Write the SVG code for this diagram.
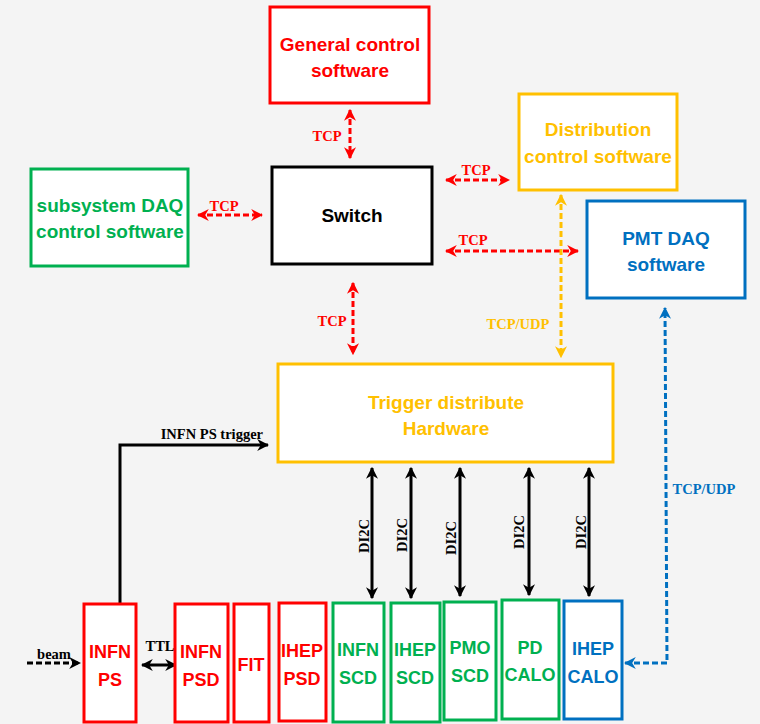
<svg xmlns="http://www.w3.org/2000/svg" width="760" height="724" viewBox="0 0 760 724">
<defs>
<marker id="ar" viewBox="0 0 10 10" refX="9" refY="5" markerWidth="4" markerHeight="4" orient="auto-start-reverse" markerUnits="strokeWidth"><path d="M0,0 L10,5 L0,10 L3,5 z" fill="#ff0000"/></marker>
<marker id="ao" viewBox="0 0 10 10" refX="9" refY="5" markerWidth="4" markerHeight="4" orient="auto-start-reverse" markerUnits="strokeWidth"><path d="M0,0 L10,5 L0,10 L3,5 z" fill="#ffc000"/></marker>
<marker id="ab" viewBox="0 0 10 10" refX="9" refY="5" markerWidth="4" markerHeight="4" orient="auto-start-reverse" markerUnits="strokeWidth"><path d="M0,0 L10,5 L0,10 L3,5 z" fill="#0070c0"/></marker>
<marker id="ak" viewBox="0 0 10 10" refX="9" refY="5" markerWidth="4" markerHeight="4" orient="auto-start-reverse" markerUnits="strokeWidth"><path d="M0,0 L10,5 L0,10 L3,5 z" fill="#000"/></marker>
</defs>
<style>
.box{fill:#fff;stroke-width:3}
.r{stroke:#ff0000}.o{stroke:#ffc000}.g{stroke:#00b050}.b{stroke:#0070c0}.k{stroke:#000}
.t{font-family:"Liberation Sans",Arial,sans-serif;font-weight:bold;font-size:19px;text-anchor:middle}
.sm{font-size:18px}
.tr{fill:#ff0000}.to{fill:#ffc000}.tg{fill:#00b050}.tb{fill:#0070c0}.tk{fill:#000}
.l{font-family:"Liberation Serif","Times New Roman",serif;font-weight:bold;font-size:14.5px;text-anchor:middle}
.d{fill:none;stroke-width:3;stroke-dasharray:6 3}
.s{fill:none;stroke-width:3}
</style>
<rect width="760" height="724" fill="#f4f4f4"/>
<g id="connectors">
<line class="d r" x1="350" y1="110" x2="350" y2="158" marker-start="url(#ar)" marker-end="url(#ar)"/>
<text class="l tr" x="327" y="141">TCP</text>
<line class="d r" x1="446" y1="180" x2="509" y2="180" marker-start="url(#ar)" marker-end="url(#ar)"/>
<text class="l tr" x="476" y="175">TCP</text>
<line class="d r" x1="198" y1="215" x2="262" y2="215" marker-start="url(#ar)" marker-end="url(#ar)"/>
<text class="l tr" x="224" y="211">TCP</text>
<line class="d r" x1="446" y1="251" x2="578" y2="251" marker-start="url(#ar)" marker-end="url(#ar)"/>
<text class="l tr" x="473" y="245">TCP</text>
<line class="d o" x1="561" y1="195" x2="561" y2="357" marker-start="url(#ao)" marker-end="url(#ao)"/>
<text class="l to" x="518" y="329">TCP/UDP</text>
<line class="d r" x1="353" y1="283" x2="353" y2="354" marker-start="url(#ar)" marker-end="url(#ar)"/>
<text class="l tr" x="332" y="326">TCP</text>
<polyline class="d b" points="625,663 667,663 665,308" marker-start="url(#ab)" marker-end="url(#ab)"/>
<text class="l tb" x="704" y="494">TCP/UDP</text>
<polyline class="s k" points="120,604 120,445 268,445" marker-end="url(#ak)"/>
<text class="l tk" x="263" y="439" style="text-anchor:end">INFN PS trigger</text>
<line class="d k" x1="27" y1="663" x2="80" y2="663" marker-end="url(#ak)"/>
<text class="l tk" x="54" y="659">beam</text>
<line class="s k" x1="142" y1="665" x2="176" y2="665" marker-start="url(#ak)" marker-end="url(#ak)"/>
<text class="l tk" x="160" y="651">TTL</text>
<line class="s k" x1="372" y1="468" x2="372" y2="598" marker-start="url(#ak)" marker-end="url(#ak)"/>
<line class="s k" x1="411" y1="468" x2="411" y2="598" marker-start="url(#ak)" marker-end="url(#ak)"/>
<line class="s k" x1="460" y1="468" x2="460" y2="596" marker-start="url(#ak)" marker-end="url(#ak)"/>
<line class="s k" x1="529" y1="468" x2="529" y2="595" marker-start="url(#ak)" marker-end="url(#ak)"/>
<line class="s k" x1="589" y1="468" x2="589" y2="596" marker-start="url(#ak)" marker-end="url(#ak)"/>
<text class="l tk" transform="translate(369,536) rotate(-90)">DI2C</text>
<text class="l tk" transform="translate(407,535) rotate(-90)">DI2C</text>
<text class="l tk" transform="translate(456,538) rotate(-90)">DI2C</text>
<text class="l tk" transform="translate(524,532) rotate(-90)">DI2C</text>
<text class="l tk" transform="translate(586,532) rotate(-90)">DI2C</text>
</g>
<g id="general"><rect class="box r" x="270" y="7" width="159" height="96"/><text class="t tr" x="350" y="51">General control</text><text class="t tr" x="350" y="77">software</text></g>
<g id="distribution"><rect class="box o" x="519" y="94" width="158" height="96"/><text class="t to" x="598" y="136">Distribution</text><text class="t to" x="598" y="163">control software</text></g>
<g id="switch"><rect class="box k" x="272" y="167" width="160" height="97"/><text class="t tk" x="352" y="222">Switch</text></g>
<g id="subsystem"><rect class="box g" x="31" y="169" width="157" height="97"/><text class="t tg" x="110" y="212">subsystem DAQ</text><text class="t tg" x="110" y="238">control software</text></g>
<g id="pmt"><rect class="box b" x="587" y="201" width="158" height="97"/><text class="t tb" x="666" y="245">PMT DAQ</text><text class="t tb" x="666" y="271">software</text></g>
<g id="trigger"><rect class="box o" x="278" y="364" width="335" height="98"/><text class="t to" x="446" y="409">Trigger distribute</text><text class="t to" x="446" y="435">Hardware</text></g>
<g id="infnps"><rect class="box r" x="84" y="604" width="52" height="118"/><text class="t sm tr" x="110" y="658">INFN</text><text class="t sm tr" x="110" y="686">PS</text></g>
<g id="infnpsd"><rect class="box r" x="175" y="604" width="53" height="118"/><text class="t sm tr" x="201" y="658">INFN</text><text class="t sm tr" x="201" y="686">PSD</text></g>
<g id="fit"><rect class="box r" x="234" y="604" width="35" height="118"/><text class="t sm tr" x="251" y="671">FIT</text></g>
<g id="iheppsd"><rect class="box r" x="279" y="603" width="47" height="118"/><text class="t sm tr" x="302" y="657">IHEP</text><text class="t sm tr" x="302" y="685">PSD</text></g>
<g id="infnscd"><rect class="box g" x="333" y="603" width="51" height="119"/><text class="t sm tg" x="358" y="656">INFN</text><text class="t sm tg" x="358" y="684">SCD</text></g>
<g id="ihepscd"><rect class="box g" x="391" y="603" width="49" height="119"/><text class="t sm tg" x="415" y="656">IHEP</text><text class="t sm tg" x="415" y="684">SCD</text></g>
<g id="pmoscd"><rect class="box g" x="444" y="602" width="52" height="118"/><text class="t sm tg" x="470" y="654">PMO</text><text class="t sm tg" x="470" y="682">SCD</text></g>
<g id="pdcalo"><rect class="box g" x="502" y="600" width="57" height="119"/><text class="t sm tg" x="530" y="654">PD</text><text class="t sm tg" x="530" y="681">CALO</text></g>
<g id="ihepcalo"><rect class="box b" x="564" y="601" width="58" height="118"/><text class="t sm tb" x="593" y="655">IHEP</text><text class="t sm tb" x="593" y="683">CALO</text></g>
</svg>
